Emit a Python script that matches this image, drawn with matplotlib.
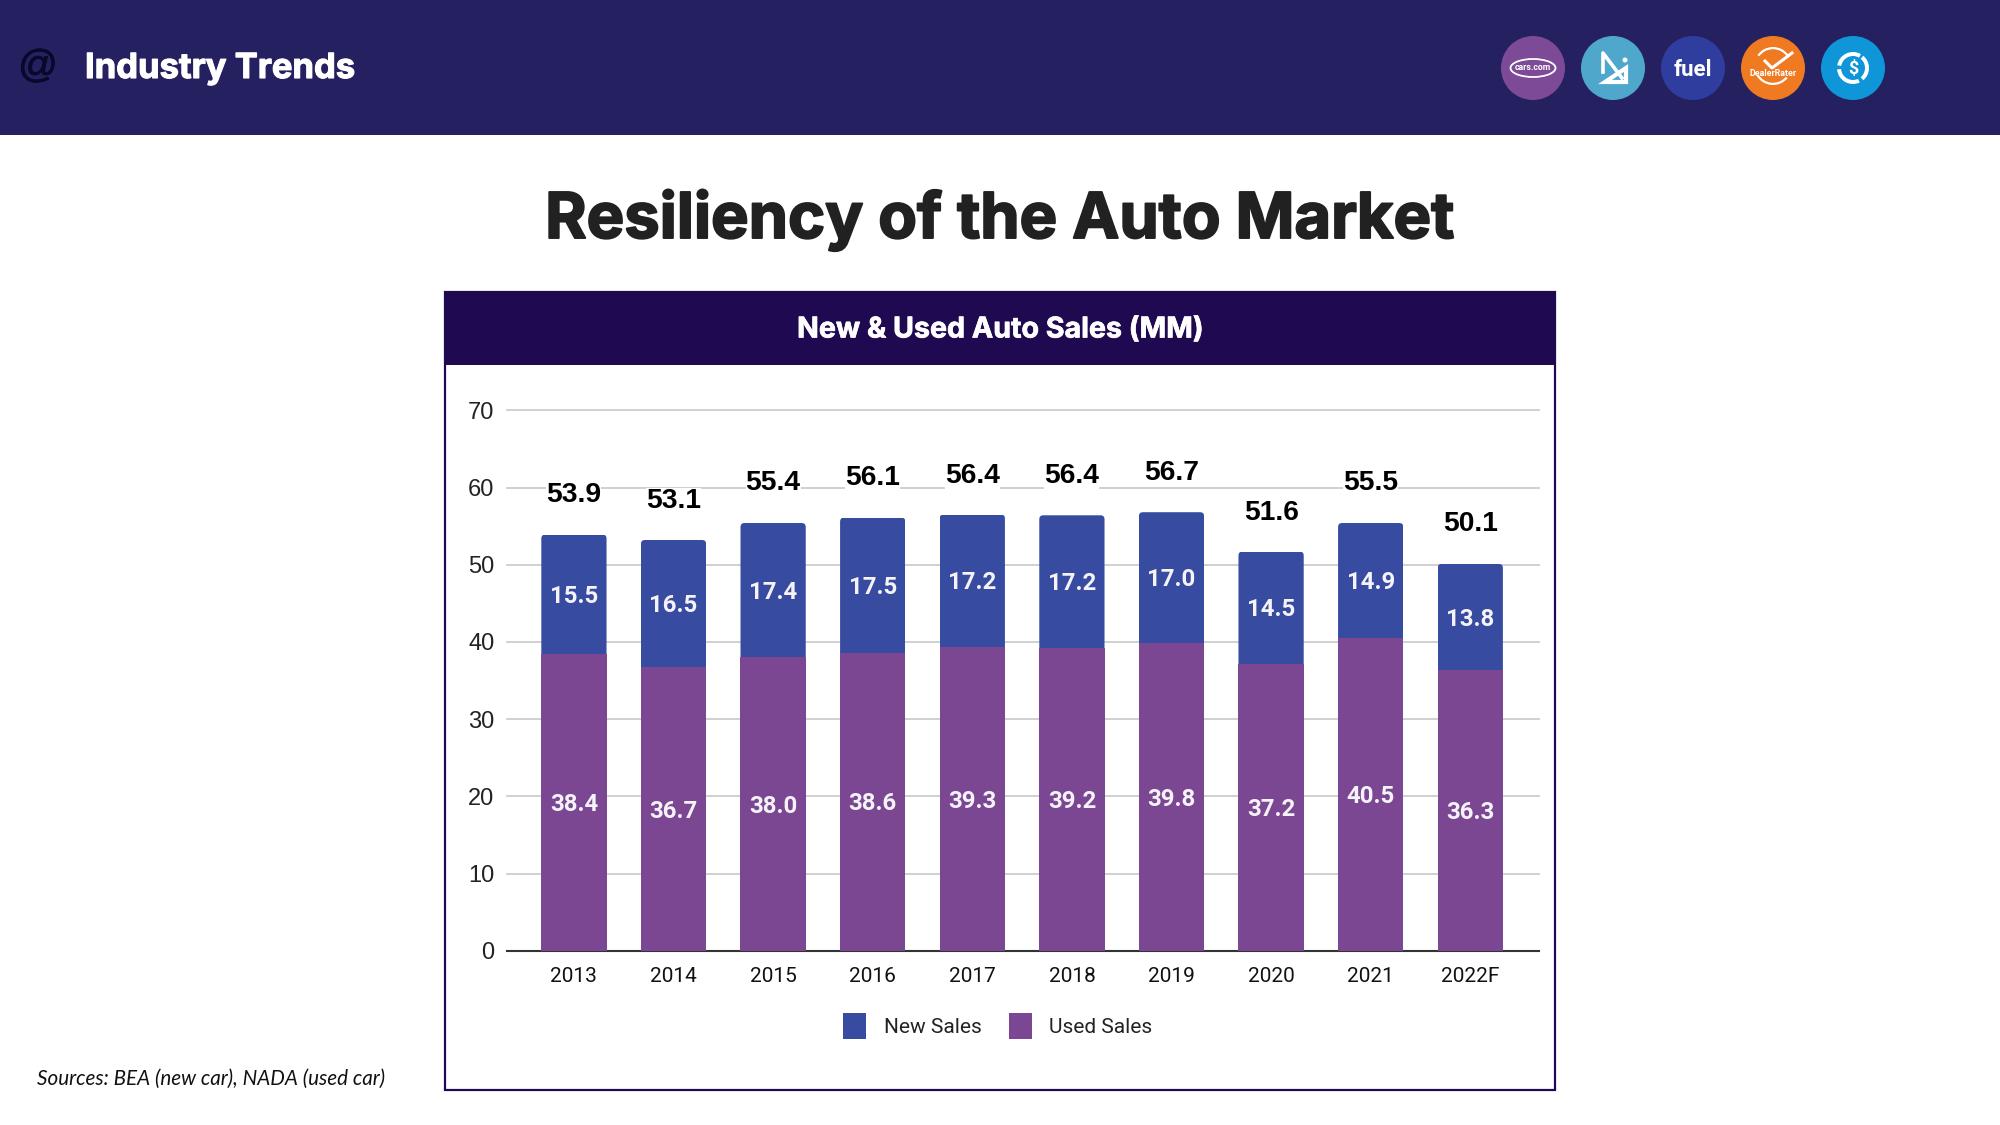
import matplotlib
matplotlib.use('Agg')
import matplotlib.pyplot as plt
import matplotlib.patheffects as pe
from matplotlib.patches import Rectangle, Circle, Ellipse, FancyBboxPatch, Patch, Wedge, Polygon
from matplotlib.transforms import IdentityTransform
import numpy as np

# Data
years = ["2013", "2014", "2015", "2016", "2017", "2018", "2019", "2020", "2021", "2022F"]
used_sales = [38.4, 36.7, 38.0, 38.6, 39.3, 39.2, 39.8, 37.2, 40.5, 36.3]
new_sales = [15.5, 16.5, 17.4, 17.5, 17.2, 17.2, 17.0, 14.5, 14.9, 13.8]
totals = [53.9, 53.1, 55.4, 56.1, 56.4, 56.4, 56.7, 51.6, 55.5, 50.1]
yticks = [0, 10, 20, 30, 40, 50, 60, 70]

NAVY = '#252060'
DARK = '#1f0a52'
BLUE = '#374ba0'
PURPLE = '#7b4793'
W, H = 2000, 1125

fig = plt.figure(figsize=(20, 11.25), dpi=100, facecolor='white')


def heavy(t, lw, c):
    # Inter bold is lighter than the original face, thicken it a little
    t.set_path_effects([pe.withStroke(linewidth=lw, foreground=c)])


# page furniture, in pixel coords
bg = fig.add_axes([0, 0, 1, 1])
bg.set_xlim(0, W)
bg.set_ylim(H, 0)
bg.axis('off')
bg.add_patch(Rectangle((0, 0), W, 135, color=NAVY, lw=0))
t = bg.text(38, 67, '@', family='Liberation Sans', fontsize=28, color='#08082a', ha='center', va='center')
heavy(t, 0.6, '#08082a')
t = bg.text(85, 69, 'Industry Trends', family='Inter', weight='bold', fontsize=24.9, color='white', va='center')
heavy(t, 0.8, 'white')
t = bg.text(1000, 220, 'Resiliency of the Auto Market', family='Inter', weight='bold', fontsize=45.5,
            color='#212121', ha='center', va='center')
heavy(t, 1.4, '#212121')
bg.text(37, 1079, 'Sources: BEA (new car), NADA (used car)', family='Lato', style='italic',
        fontsize=14.9, color='#111111', va='center')

# chart panel
bg.add_patch(Rectangle((445, 292), 1110, 798, fc='white', ec=DARK, lw=1.6))
bg.add_patch(FancyBboxPatch((444, 291), 1112, 74, boxstyle='round,pad=0,rounding_size=3', fc=DARK, ec='none'))
t = bg.text(1000, 330, 'New & Used Auto Sales (MM)', family='Inter', weight='bold', fontsize=20.6,
            color='white', ha='center', va='center')
heavy(t, 0.5, 'white')

# logos
logo_x = [1533, 1613, 1693, 1773, 1853]
logo_c = ['#7d4a97', '#4fa7cc', '#2f3e9e', '#f07a22', '#0f96d8']
for cx, c in zip(logo_x, logo_c):
    bg.add_patch(Circle((cx, 68), 32, color=c, lw=0))
bg.add_patch(Ellipse((1533, 68), 45, 18, fc='none', ec='white', lw=1.3))
bg.text(1533, 68, 'cars.com', family='Roboto', weight='bold', fontsize=6.3, color='white', ha='center', va='center')
bg.plot([1603, 1603, 1622], [72, 53, 78], color='white', lw=2.6)
bg.add_patch(Polygon([(1605, 82), (1626, 68), (1626, 82)], closed=True, fc='none', ec='white', lw=3))
bg.add_patch(Circle((1625, 60), 2.5, color='white', lw=0))
bg.text(1693, 70, 'fuel', family='Roboto', weight='bold', fontsize=16, color='white', ha='center', va='center')
bg.add_patch(Wedge((1773, 66), 19, 215, 325, width=2.2, color='white', lw=0))
bg.add_patch(Wedge((1773, 66), 19, 40, 150, width=2.2, color='white', lw=0))
bg.plot([1765, 1772, 1792], [61, 68, 53], color='white', lw=2.2)
bg.text(1773, 74, 'DealerRater', family='Roboto', weight='bold', fontsize=6.4, color='white', ha='center', va='center')
for a0, a1 in [(-50, 50), (65, 175), (190, 300)]:
    bg.add_patch(Wedge((1853, 68), 16, a0, a1, width=4, color='white', lw=0))
bg.text(1853, 69, '$', family='Roboto', weight='bold', fontsize=13, color='white', ha='center', va='center')

# chart
ax = fig.add_axes([507 / W, 1 - 950.7 / H, (1539 - 507) / W, (950.7 - 410.3) / H])
ax.patch.set_alpha(0)
x = np.arange(len(years))
used_bars = ax.bar(x, used_sales, 0.655, color=PURPLE, zorder=3, label='Used Sales')
new_bars = ax.bar(x, new_sales, 0.655, bottom=used_sales, color=BLUE, zorder=3, label='New Sales')
ax.set_xlim(-0.672, 9.69)
ax.set_ylim(0, 70)
ax.set_yticks(yticks)
ax.set_xticks(x, years)
for s in ax.spines.values():
    s.set_visible(False)
ax.grid(axis='y', color='#c8c8c8', lw=1.2, zorder=1)
for g in ax.get_ygridlines():
    g.set_clip_on(False)
ax.axhline(0, color='#333333', lw=1.5, zorder=2, clip_on=False)
ax.tick_params(length=0)
ax.tick_params(axis='y', pad=9, labelsize=17, labelfontfamily='Liberation Sans', labelcolor='#222222')
ax.tick_params(axis='x', pad=12, labelsize=15, labelfontfamily='Roboto', labelcolor='#111111')

for i in range(len(years)):
    ax.annotate(f'{used_sales[i]:.1f}', (x[i], used_sales[i] / 2), xytext=(0, -1.5), textcoords='offset points',
                family='Roboto', weight='bold', fontsize=17.3, color='#f5f3f8', ha='center', va='center', zorder=4)
    ax.annotate(f'{new_sales[i]:.1f}', (x[i], used_sales[i] + new_sales[i] / 2), xytext=(0, -1.5),
                textcoords='offset points', family='Roboto', weight='bold', fontsize=17.3, color='#f5f3f8',
                ha='center', va='center', zorder=4)
    ax.annotate(f'{totals[i]:.1f}', (x[i], totals[i]), xytext=(0, 28.5), textcoords='offset points',
                family='Liberation Sans', weight='bold', fontsize=20.3, color='black', ha='center', va='center',
                zorder=4, bbox=dict(fc='white', ec='none', pad=0))

# small rounding on the top of each stack
fig.canvas.draw()
r = fig.canvas.get_renderer()
for b in new_bars:
    e = b.get_window_extent(r)
    clip = FancyBboxPatch((e.x0, e.y0 - 10), e.width, e.height + 10, boxstyle='round,pad=0,rounding_size=4',
                          transform=IdentityTransform())
    b.set_clip_path(clip)

handles = [Patch(fc=BLUE, label='New Sales'), Patch(fc=PURPLE, label='Used Sales')]
fig.legend(handles=handles, loc='center', bbox_to_anchor=(998 / W, 1 - 1026 / H), ncol=2, frameon=False,
           prop={'family': 'Roboto', 'size': 15}, labelcolor='#222222', handlelength=1.1, handleheight=1.5,
           handletextpad=0.85, columnspacing=1.3)

fig.savefig('out.png', dpi=100)
